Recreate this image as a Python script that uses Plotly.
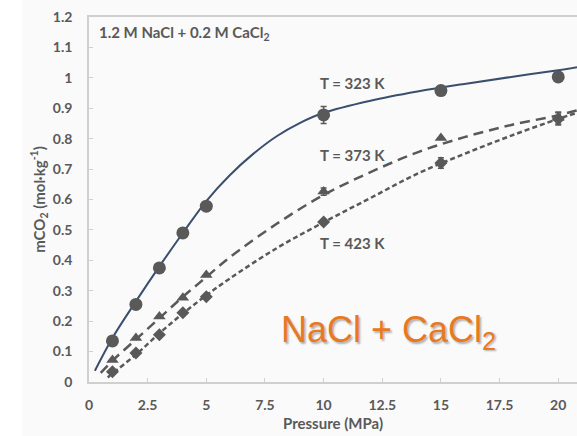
import plotly.graph_objects as go

# ---- data ----
pressure = [1, 2, 3, 4, 5, 10, 15, 20]
m323 = [0.135, 0.255, 0.375, 0.49, 0.578, 0.878, 0.958, 1.003]
e323 = [0, 0, 0, 0, 0, 0.028, 0, 0]
m373 = [0.072, 0.145, 0.215, 0.277, 0.352, 0.626, 0.802, 0.868]
e373 = [0, 0, 0, 0, 0, 0.012, 0, 0.02]
m423 = [0.034, 0.095, 0.155, 0.228, 0.28, 0.526, 0.72, 0.865]
e423 = [0, 0, 0, 0, 0, 0, 0.017, 0.02]

fit323_x = [0.25, 1, 2, 3, 4, 5, 6, 7, 8, 9, 10, 12, 14, 16, 18, 20, 20.8]
fit323_y = [0.037, 0.145, 0.265, 0.38, 0.49, 0.595, 0.68, 0.75, 0.808, 0.852, 0.885,
            0.925, 0.955, 0.98, 1.003, 1.025, 1.035]
fit373_x = [0.5, 1, 2, 3, 4, 5, 6, 8, 10, 12, 14, 16, 18, 20, 20.8]
fit373_y = [0.03, 0.07, 0.14, 0.21, 0.28, 0.345, 0.41, 0.52, 0.615, 0.69, 0.755,
            0.805, 0.845, 0.877, 0.893]
fit423_x = [0.8, 1, 2, 3, 4, 5, 6, 8, 10, 12, 14, 16, 18, 20, 20.8]
fit423_y = [0.015, 0.028, 0.09, 0.16, 0.225, 0.285, 0.34, 0.44, 0.525, 0.605, 0.685,
            0.75, 0.81, 0.865, 0.885]

x_ticks = [0, 2.5, 5, 7.5, 10, 12.5, 15, 17.5, 20]
x_ticklabels = ["0", "2.5", "5", "7.5", "10", "12.5", "15", "17.5", "20"]
y_ticks = [0, 0.1, 0.2, 0.3, 0.4, 0.5, 0.6, 0.7, 0.8, 0.9, 1.0, 1.1, 1.2]
y_ticklabels = ["0", "0.1", "0.2", "0.3", "0.4", "0.5", "0.6", "0.7", "0.8", "0.9", "1", "1.1", "1.2"]

GRAY = "#595959"
NAVY = "#3a4f6e"
ORANGE = "#e8791f"
FONT = "Lato"

fig = go.Figure()

# fitted curves
fig.add_trace(go.Scatter(x=fit323_x, y=fit323_y, mode="lines", line=dict(color=NAVY, width=2, shape="spline"),
                         hoverinfo="skip"))
fig.add_trace(go.Scatter(x=fit373_x, y=fit373_y, mode="lines",
                         line=dict(color=GRAY, width=2.5, dash="10px,6px", shape="spline"), hoverinfo="skip"))
fig.add_trace(go.Scatter(x=fit423_x, y=fit423_y, mode="lines",
                         line=dict(color=GRAY, width=2.5, dash="5px,3px", shape="spline"), hoverinfo="skip"))

# data points
def err(arr):
    return dict(type="data", array=arr, visible=True, color=GRAY, thickness=1.5, width=3)

fig.add_trace(go.Scatter(x=pressure, y=m323, mode="markers", error_y=err(e323),
                         marker=dict(symbol="circle", size=13, color=GRAY)))
fig.add_trace(go.Scatter(x=pressure, y=m373, mode="markers", error_y=err(e373),
                         marker=dict(symbol="triangle-up", size=11, color=GRAY)))
fig.add_trace(go.Scatter(x=pressure, y=m423, mode="markers", error_y=err(e423),
                         marker=dict(symbol="diamond", size=10, color=GRAY)))

lab_font = dict(family=FONT, size=15, color=GRAY, weight="bold")
annotations = [
    dict(x=0.34, y=1.147, text="1.2 M NaCl + 0.2 M CaCl<sub>2</sub>", xanchor="left", yanchor="middle",
         showarrow=False, font=lab_font),
    dict(x=9.76, y=0.983, text="T = 323 K", xanchor="left", yanchor="middle", showarrow=False, font=lab_font),
    dict(x=9.76, y=0.746, text="T = 373 K", xanchor="left", yanchor="middle", showarrow=False, font=lab_font),
    dict(x=9.76, y=0.457, text="T = 423 K", xanchor="left", yanchor="middle", showarrow=False, font=lab_font),
    dict(x=8.1, y=0.165, text="NaCl + CaCl<sub>2</sub>", xanchor="left", yanchor="middle", showarrow=False,
         font=dict(family="Liberation Sans", size=36, color=ORANGE,
                   shadow="1.5px 1.5px 2px rgba(0,0,0,0.3)")),
]

fig.update_layout(
    width=577, height=436,
    margin=dict(l=89, r=0, t=17, b=54),
    paper_bgcolor="#fafafa", plot_bgcolor="#fafafa",
    showlegend=False,
    annotations=annotations,
    shapes=[dict(type="rect", xref="paper", yref="paper", x0=-0.1824, x1=-0.1373, y0=-0.2, y1=1.1,
                 fillcolor="white", line=dict(width=0), layer="below")],
    xaxis=dict(range=[0, 20.8], tickvals=x_ticks, ticktext=x_ticklabels, showgrid=False, zeroline=False,
               showline=True, linecolor="#d0d0d0", linewidth=1.5, mirror=True, ticks="inside", ticklen=4,
               tickcolor="#d0d0d0", ticklabelstandoff=9,
               tickfont=dict(family=FONT, size=14, color=GRAY, weight="bold"),
               title=dict(text="Pressure (MPa)", standoff=7,
                          font=dict(family=FONT, size=15, color=GRAY, weight="bold"))),
    yaxis=dict(range=[0, 1.2], tickvals=y_ticks, ticktext=y_ticklabels, showgrid=False, zeroline=False,
               showline=True, linecolor="#d0d0d0", linewidth=1.5, ticks="inside", ticklen=4,
               tickcolor="#d0d0d0", ticklabelstandoff=12,
               tickfont=dict(family=FONT, size=14, color=GRAY, weight="bold"),
               title=dict(text="mCO<sub>2</sub> (mol·kg<sup>-1</sup>)", standoff=4,
                          font=dict(family=FONT, size=15, color=GRAY, weight="bold"))),
)

fig.write_html("out.html")
